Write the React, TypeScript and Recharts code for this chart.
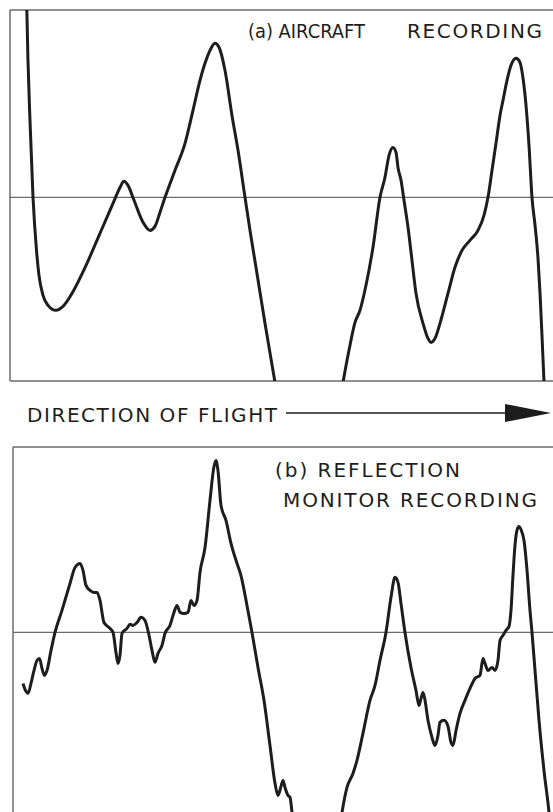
import React from 'react';
import { LineChart, Line, XAxis, YAxis, ReferenceLine, Customized } from 'recharts';

// Distance along the flight line (0–100, arbitrary units) and recorded amplitude
// (arbitrary units, 0 = zero line) for the two recordings.
const aircraftDistance = [
  3.04, 3.31, 3.68, 4.24, 4.88, 5.34, 6.08, 7.0, 8.47, 9.76, 11.42, 14.18, 16.57, 18.97,
  20.26, 20.99, 21.73, 22.84, 24.49, 25.78, 26.7, 27.62, 28.55, 30.39, 32.23, 33.7, 34.99,
  35.91, 37.02, 37.75, 38.49, 39.59, 40.88, 41.99, 43.28, 44.2, 45.3, 46.96, 48.8, 50.28,
  55.06, 59.85, 61.33, 62.43, 63.54, 64.46, 65.56, 66.85, 68.14, 69.06, 69.8, 70.53, 71.09,
  71.45, 72.01, 72.56, 73.3, 74.03, 74.77, 76.06, 76.98, 77.53, 78.27, 79.19, 80.66, 81.95,
  83.24, 84.71, 86.19, 87.29, 88.03, 88.77, 89.5, 90.24, 90.79, 91.53, 92.27, 93.19, 93.92,
  94.48, 95.03, 95.58, 96.13, 96.69, 97.24, 97.61, 97.97, 98.34, 98.71,
];
const aircraftSignal = [
  110, 74.6, 41.9, 0, -28.9, -42.5, -53.4, -58.8, -61.5, -59.4, -52.3, -35.9, -19.6, -3.3,
  5.4, 8.7, 6.5, -1.6, -13.6, -18.0, -15.8, -8.2, 0, 14.7, 29.4, 47.4, 63.7,
  73.0, 81.1, 83.9, 81.7, 69.2, 44.6, 25.6, 0, -18.0, -38.1, -68.6, -100.7, -126.9,
  -148.6, -126.9, -100.7, -83.3, -68.1, -61.5, -47.9, -27.2, 0, 10.9, 22.9, 27.2, 24.5,
  16.3, 9.3, -1.6, -16.3, -34.3, -52.3, -68.6, -76.8, -79.0, -76.8, -68.6, -52.3, -38.1,
  -28.9, -23.4, -18.0, -9.8, 0, 14.7, 29.4, 44.6, 52.8, 63.7, 71.9, 75.7, 73.5,
  64.8, 50.1, 28.3, 0, -15.2, -33.2, -52.3, -75.1, -100.2, -121.4,
];

const monitorDistance = [
  1.85, 2.31, 2.78, 3.33, 3.89, 4.44, 4.91, 5.37, 5.83, 6.3, 7.04, 7.78, 9.07, 10.56, 11.48,
  12.41, 12.96, 13.52, 14.26, 15.0, 15.56, 16.11, 16.85, 17.78, 18.52, 19.07, 19.44, 19.81,
  20.19, 21.11, 21.67, 22.22, 22.96, 23.7, 24.44, 25.19, 25.74, 26.3, 26.85, 27.59, 28.15,
  29.07, 29.81, 30.37, 30.93, 31.67, 32.41, 32.96, 33.52, 34.07, 34.63, 35.56, 36.48, 37.22,
  37.59, 37.96, 38.52, 39.44, 40.37, 41.48, 42.22, 43.33, 44.26, 45.37, 46.48, 47.59, 48.52,
  49.07, 49.63, 50.0, 50.37, 50.93, 51.3, 51.67, 52.22, 56.48, 60.19, 60.93, 61.85, 62.96,
  63.7, 64.81, 66.11, 67.04, 67.96, 69.07, 70.0, 70.74, 71.3, 71.85, 72.59, 73.7, 74.63,
  75.19, 75.56, 75.93, 76.3, 76.85, 77.59, 78.15, 78.7, 79.07, 79.81, 80.56, 81.11, 81.48,
  82.04, 82.78, 83.7, 84.63, 85.56, 86.48, 87.04, 87.41, 87.96, 88.7, 89.26, 89.81, 90.19,
  90.74, 91.3, 91.85, 92.22, 92.59, 92.96, 93.33, 93.7, 94.26, 94.63, 95.19, 95.74, 96.11,
  96.67, 97.41, 98.33, 99.26, 99.63,
];
const monitorSignal = [
  -27.8, -31.6, -33.2, -27.8, -20.7, -15.3, -14.2, -19.6, -23.4, -20.7, -9.8, 0, 12.0, 26.7, 35.4,
  37.6, 33.8, 25.6, 22.9, 21.8, 21.8, 17.4, 5.4, 2.7, 0, -10.9, -16.9, -12.5,
  -0.5, 2.2, 4.4, 3.8, 5.4, 8.2, 6.5, -1.6, -9.8, -16.3, -11.4, -7.1, -0.5,
  3.8, 10.9, 14.7, 10.9, 10.3, 10.9, 17.4, 14.7, 17.4, 32.7, 46.3, 71.9, 90.4,
  93.7, 88.2, 69.2, 61.0, 48.5, 37.6, 31.0, 14.7, 0, -19.1, -37.0, -61.6, -82.2,
  -88.8, -83.9, -80.6, -84.4, -88.8, -89.9, -98, -113, -135, -113, -98, -84.4, -76.8,
  -69.7, -55.0, -37.0, -28.9, -15.3, 0, 19.1, 30.0, 27.2, 15.8, 0, -19.1, -31.6,
  -39.8, -35.9, -32.7, -37.0, -47.9, -57.2, -61.6, -56.1, -49.0, -47.9, -51.2, -59.9, -61.6,
  -53.4, -44.1, -37.0, -30.5, -25.1, -23.4, -14.2, -16.9, -20.7, -19.1, -20.7, -15.3, -4.4,
  -1.6, 1.1, 3.3, 12.0, 31.0, 47.4, 55.6, 57.7, 54.5, 50.1, 33.8, 12.0, 0,
  -20.7, -47.9, -75.2, -98, -110,
];

const titleA = ['(a) AIRCRAFT', 'RECORDING'];
const titleB = ['(b) REFLECTION', 'MONITOR RECORDING'];
const directionLabel = 'DIRECTION OF FLIGHT';

const aircraftData = aircraftDistance.map((d, i) => ({ d, v: aircraftSignal[i] }));
const monitorData = monitorDistance.map((d, i) => ({ d, v: monitorSignal[i] }));

const FONT = '"DejaVu Sans", "Liberation Sans", sans-serif';
const INK = '#1d1d1d';
const FRAME = '#6b6b6b';

const textStyle = {
  fontFamily: FONT,
  fontSize: 20,
  fill: INK,
} as const;

const AircraftOverlay = () => (
  <g>
    <text x={248} y={38} textLength={117} lengthAdjust="spacingAndGlyphs" style={textStyle}>
      {titleA[0]}
    </text>
    <text x={407} y={38} textLength={135} lengthAdjust="spacing" style={textStyle}>
      {titleA[1]}
    </text>
    <text x={27} y={422} textLength={250} lengthAdjust="spacing" style={textStyle}>
      {directionLabel}
    </text>
    <line x1={286} y1={413} x2={507} y2={413} stroke={INK} strokeWidth={1.4} />
    <polygon points="505,404 551,413 505,422" fill={INK} />
  </g>
);

const MonitorOverlay = () => (
  <g>
    <text x={275} y={37} textLength={185} lengthAdjust="spacing" style={textStyle}>
      {titleB[0]}
    </text>
    <text x={283} y={67} textLength={254} lengthAdjust="spacing" style={textStyle}>
      {titleB[1]}
    </text>
  </g>
);

export default function App() {
  return (
    <div
      style={{
        position: 'absolute',
        left: 0,
        top: 0,
        width: 553,
        height: 812,
        overflow: 'hidden',
        background: '#fff',
      }}
    >
      <div style={{ position: 'absolute', left: 0, top: 0 }}>
        <LineChart
          width={553}
          height={440}
          data={aircraftData}
          margin={{ top: 10, right: 0, bottom: 59, left: 10 }}
        >
          <XAxis dataKey="d" type="number" domain={[0, 100]} hide allowDataOverflow />
          <YAxis type="number" domain={[-100, 102]} hide allowDataOverflow />
          <ReferenceLine y={102} stroke={FRAME} strokeWidth={1.5} />
          <ReferenceLine y={-100} stroke={FRAME} strokeWidth={1.5} />
          <ReferenceLine x={0} stroke={FRAME} strokeWidth={1.5} />
          <ReferenceLine y={0} stroke={FRAME} strokeWidth={1.3} />
          <Line
            dataKey="v"
            type="monotone"
            stroke={INK}
            strokeWidth={3}
            dot={false}
            isAnimationActive={false}
          />
          <Customized component={AircraftOverlay} />
        </LineChart>
      </div>
      <div style={{ position: 'absolute', left: 0, top: 440 }}>
        <LineChart
          width={553}
          height={380}
          data={monitorData}
          margin={{ top: 7, right: 0, bottom: 4, left: 13 }}
        >
          <XAxis dataKey="d" type="number" domain={[0, 100]} hide allowDataOverflow />
          <YAxis type="number" domain={[-100, 101]} hide allowDataOverflow />
          <ReferenceLine y={101} stroke={FRAME} strokeWidth={1.5} />
          <ReferenceLine x={0} stroke={FRAME} strokeWidth={1.5} />
          <ReferenceLine y={0} stroke={FRAME} strokeWidth={1.3} />
          <Line
            dataKey="v"
            type="monotone"
            stroke={INK}
            strokeWidth={3}
            dot={false}
            isAnimationActive={false}
          />
          <Customized component={MonitorOverlay} />
        </LineChart>
      </div>
    </div>
  );
}
